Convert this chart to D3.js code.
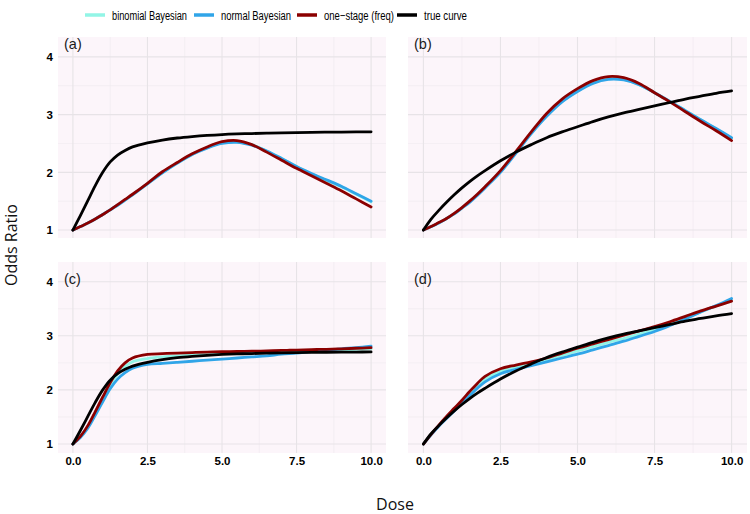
<!DOCTYPE html>
<html><head><meta charset="utf-8">
<script src="https://cdn.jsdelivr.net/npm/d3@7/dist/d3.min.js"></script>
<style>body{margin:0;background:#fff}svg{display:block}</style>
</head><body>
<svg id="chart" width="750" height="514"></svg>
<script>
// ---------- data ----------
const dose = [0,0.25,0.5,0.75,1,1.25,1.5,1.75,2,2.5,3,3.5,4,4.5,5,5.5,6,6.5,7,7.5,8,8.5,9,9.5,10];
const seriesNames = ["binomial Bayesian","normal Bayesian","one\u2212stage (freq)","true curve"];
const panelLabels = ["(a)","(b)","(c)","(d)"];
const xTicks = [0,2.5,5,7.5,10];
const yTicks = [1,2,3,4];

// true curves
const trueA = [1,1.25,1.51,1.77,2.00,2.18,2.30,2.38,2.44,2.51,2.56,2.595,2.62,2.64,2.655,2.665,2.672,2.678,2.684,2.689,2.693,2.696,2.698,2.70,2.702];
const trueB = [1,1.19,1.34,1.48,1.61,1.73,1.84,1.94,2.03,2.20,2.35,2.48,2.60,2.70,2.79,2.88,2.96,3.03,3.09,3.15,3.21,3.27,3.32,3.37,3.41];

// panel (a)
const aBinom = [1,1.06,1.12,1.19,1.27,1.35,1.43,1.52,1.61,1.80,1.99,2.16,2.31,2.43,2.51,2.53,2.48,2.37,2.24,2.10,1.97,1.86,1.75,1.62,1.49];
const aNormal = [1,1.06,1.12,1.19,1.27,1.35,1.43,1.52,1.61,1.80,1.99,2.16,2.31,2.42,2.50,2.52,2.47,2.37,2.24,2.10,1.98,1.87,1.76,1.63,1.50];
const aFreq = [1,1.06,1.12,1.19,1.27,1.35,1.44,1.53,1.62,1.81,2.01,2.17,2.32,2.44,2.53,2.55,2.48,2.35,2.21,2.07,1.94,1.81,1.68,1.54,1.40];
// panel (b)
const bBinom = [1,1.06,1.12,1.20,1.28,1.38,1.49,1.61,1.74,2.01,2.34,2.68,2.98,3.23,3.41,3.55,3.62,3.61,3.52,3.38,3.23,3.07,2.91,2.75,2.59];
const bNormal = [1,1.06,1.12,1.20,1.28,1.38,1.48,1.60,1.73,2.00,2.33,2.67,2.97,3.22,3.40,3.54,3.61,3.60,3.52,3.38,3.23,3.07,2.91,2.76,2.60];
const bFreq = [1,1.06,1.13,1.20,1.29,1.39,1.50,1.62,1.75,2.03,2.36,2.70,3.02,3.27,3.45,3.59,3.66,3.64,3.54,3.38,3.22,3.05,2.88,2.72,2.55];
// panel (c)
const cBinom = [1,1.13,1.32,1.57,1.83,2.08,2.29,2.43,2.52,2.58,2.61,2.63,2.645,2.66,2.67,2.68,2.69,2.70,2.705,2.71,2.72,2.73,2.74,2.75,2.76];
const cNormal = [1,1.12,1.29,1.53,1.78,2.02,2.20,2.32,2.40,2.47,2.49,2.51,2.53,2.55,2.57,2.59,2.61,2.63,2.66,2.68,2.71,2.73,2.76,2.78,2.81];
const cFreq = [1,1.14,1.34,1.60,1.87,2.13,2.35,2.50,2.59,2.655,2.67,2.68,2.69,2.70,2.705,2.71,2.715,2.72,2.73,2.735,2.745,2.75,2.76,2.77,2.78];
// panel (d)
const dBinom = [1,1.18,1.34,1.49,1.63,1.78,1.93,2.08,2.20,2.34,2.42,2.49,2.56,2.64,2.72,2.80,2.88,2.95,3.03,3.12,3.22,3.33,3.44,3.55,3.66];
const dNormal = [1,1.17,1.33,1.47,1.61,1.75,1.89,2.03,2.15,2.30,2.38,2.45,2.52,2.59,2.66,2.74,2.82,2.90,2.99,3.08,3.19,3.31,3.44,3.56,3.69];
const dFreq = [1,1.18,1.35,1.51,1.66,1.81,1.97,2.12,2.25,2.39,2.46,2.52,2.59,2.68,2.77,2.85,2.93,3.01,3.09,3.17,3.26,3.36,3.46,3.55,3.64];

const panelSeries = [
  [aBinom, aNormal, aFreq, trueA],
  [bBinom, bNormal, bFreq, trueB],
  [cBinom, cNormal, cFreq, trueA],
  [dBinom, dNormal, dFreq, trueB]
];

// ---------- style / layout ----------
const colors = ["#92F5E6","#30A5E8","#8B0000","#000000"];
const svg = d3.select("#chart");
const panels = [
  {x0:58, x1:386, y0:37, y1:238, yd:[0.862,4.345], left:true, bottom:false, lx:64, ly:49},
  {x0:408,x1:747, y0:37, y1:238, yd:[0.862,4.345], left:false,bottom:false, lx:414, ly:49},
  {x0:58, x1:386, y0:262,y1:453, yd:[0.834,4.364], left:true, bottom:true, lx:64, ly:284},
  {x0:408,x1:747, y0:262,y1:453, yd:[0.834,4.364], left:false,bottom:true, lx:414, ly:284}
];

panels.forEach((p,i)=>{
  const x = d3.scaleLinear().domain([-0.5,10.5]).range([p.x0,p.x1]);
  const y = d3.scaleLinear().domain(p.yd).range([p.y1,p.y0]);
  const g = svg.append("g");
  g.append("rect").attr("x",p.x0).attr("y",p.y0).attr("width",p.x1-p.x0).attr("height",p.y1-p.y0).attr("fill","#FCF5FA");
  const xMinor = [1.25,3.75,6.25,8.75], yMinor=[1.5,2.5,3.5];
  g.selectAll(".vmin").data(xMinor).enter().append("line")
    .attr("x1",d=>x(d)).attr("x2",d=>x(d)).attr("y1",p.y0).attr("y2",p.y1)
    .attr("stroke","#EEE9EE").attr("stroke-width",0.6);
  g.selectAll(".hmin").data(yMinor).enter().append("line")
    .attr("y1",d=>y(d)).attr("y2",d=>y(d)).attr("x1",p.x0).attr("x2",p.x1)
    .attr("stroke","#EEE9EE").attr("stroke-width",0.6);
  g.selectAll(".vmaj").data(xTicks).enter().append("line")
    .attr("x1",d=>x(d)).attr("x2",d=>x(d)).attr("y1",p.y0).attr("y2",p.y1)
    .attr("stroke","#E7E3E7").attr("stroke-width",1.1);
  g.selectAll(".hmaj").data(yTicks).enter().append("line")
    .attr("y1",d=>y(d)).attr("y2",d=>y(d)).attr("x1",p.x0).attr("x2",p.x1)
    .attr("stroke","#E7E3E7").attr("stroke-width",1.1);

  const line = d3.line().x((d,k)=>x(dose[k])).y(d=>y(d)).curve(d3.curveCatmullRom.alpha(0.5));
  panelSeries[i].forEach((vals,s)=>{
    g.append("path").attr("d",line(vals)).attr("fill","none")
      .attr("stroke",colors[s]).attr("stroke-width",2.8)
      .attr("stroke-linecap","round").attr("stroke-linejoin","round");
  });

  g.append("text").attr("x",p.lx).attr("y",p.ly).text(panelLabels[i])
    .attr("font-family","Liberation Sans, Arial, sans-serif").attr("font-size",14.5).attr("fill","#1a1a1a");

  if(p.left){
    const ax = g.append("g").attr("transform",`translate(${p.x0},0)`)
      .call(d3.axisLeft(y).tickValues(yTicks).tickFormat(d3.format("d")).tickSize(0).tickPadding(5));
    ax.select(".domain").remove();
    ax.selectAll("text").attr("font-family","Liberation Sans, Arial, sans-serif").attr("font-weight","bold").attr("font-size",11.5).attr("fill","#000");
  }
  if(p.bottom){
    const ax = g.append("g").attr("transform",`translate(0,${p.y1})`)
      .call(d3.axisBottom(x).tickValues(xTicks).tickFormat(d3.format(".1f")).tickSize(0).tickPadding(4));
    ax.select(".domain").remove();
    ax.selectAll("text").attr("font-family","Liberation Sans, Arial, sans-serif").attr("font-weight","bold").attr("font-size",11.5).attr("fill","#000");
  }
});

// axis titles
svg.append("text").attr("x",395).attr("y",510).attr("text-anchor","middle")
  .attr("font-family","Open Sans, sans-serif").attr("font-size",16).attr("fill","#111").text("Dose");
svg.append("text").attr("transform","translate(17,245) rotate(-90)").attr("text-anchor","middle")
  .attr("font-family","Open Sans, sans-serif").attr("font-size",16).attr("fill","#111").text("Odds Ratio");

// legend
const legX = [85,194,297,397];
const legW = [75,70,70,43];
const lg = svg.append("g");
seriesNames.forEach((n,s)=>{
  lg.append("line").attr("x1",legX[s]).attr("x2",legX[s]+20).attr("y1",15).attr("y2",15)
    .attr("stroke",colors[s]).attr("stroke-width",3.5);
  lg.append("text").attr("x",legX[s]+27).attr("y",19.5).text(n)
    .attr("font-family","Liberation Sans Narrow, Arial Narrow, Liberation Sans, sans-serif")
    .attr("font-size",12.5).attr("fill","#000")
    .attr("textLength",legW[s]).attr("lengthAdjust","spacingAndGlyphs");
});
</script>
</body></html>
